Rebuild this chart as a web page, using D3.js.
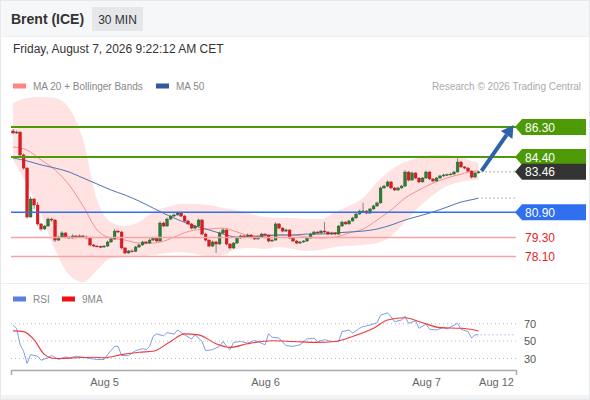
<!DOCTYPE html>
<html>
<head>
<meta charset="utf-8">
<title>Brent (ICE) 30 MIN</title>
<script src="https://d3js.org/d3.v7.min.js"></script>
<style>
  body { margin: 0; background: #fff; }
  svg text { font-family: "Liberation Sans", Arial, sans-serif; }
</style>
</head>
<body>
<svg id="chart" width="590" height="400"></svg>
<script>
// ---- data ----
var firstOpen = 86.05;
var closes = [85.92, 85.98, 84.53, 83.70, 80.60, 81.74, 81.36, 80.16, 79.84, 80.03,
  80.47, 80.41, 79.14, 79.33, 79.59, 79.33, 79.27, 79.40, 79.33, 79.40,
  79.33, 79.27, 78.83, 78.76, 78.73, 78.70, 78.76, 79.02, 79.21, 79.71,
  79.65, 78.64, 78.32, 78.45, 78.42, 78.70, 78.83, 79.02, 78.95, 79.14,
  79.27, 79.08, 80.22, 80.03, 80.47, 80.66, 80.73, 80.85, 80.66, 80.35,
  80.16, 79.90, 80.03, 80.41, 79.52, 79.14, 78.76, 79.02, 78.89, 79.59,
  79.78, 78.89, 78.64, 78.95, 79.27, 79.40, 79.33, 79.46, 79.33, 79.21,
  79.33, 79.52, 79.46, 79.08, 79.14, 80.16, 79.90, 79.71, 79.78, 79.27,
  79.08, 78.95, 79.02, 79.08, 79.27, 79.52, 79.65, 79.59, 79.71, 79.65,
  79.52, 79.59, 79.52, 80.03, 80.28, 80.16, 80.35, 80.54, 80.79, 80.98,
  80.98, 80.85, 81.11, 81.30, 81.49, 82.44, 82.56, 82.82, 82.44, 82.31,
  82.44, 82.56, 83.45, 82.94, 83.39, 83.07, 82.82, 83.07, 83.45, 83.01,
  82.88, 83.07, 83.20, 83.26, 83.29, 83.32, 83.45, 84.08, 83.77, 83.70,
  83.51, 83.13, 83.39, 83.46];
var highs = [86.18, 86.08, 86.02, 84.62, 83.76, 81.88, 81.80, 81.55, 80.22, 80.10,
  80.58, 80.55, 80.46, 79.42, 79.70, 79.64, 79.40, 79.50, 79.46, 79.50,
  79.47, 79.43, 79.34, 78.90, 78.82, 78.80, 78.83, 79.10, 79.30, 79.84,
  79.78, 79.72, 78.70, 78.52, 78.55, 78.78, 78.92, 79.10, 79.08, 79.24,
  79.36, 79.32, 80.32, 80.30, 80.56, 80.74, 80.82, 80.94, 80.92, 80.72,
  80.42, 80.22, 80.10, 80.50, 80.46, 79.60, 79.20, 79.12, 79.10, 79.68,
  79.88, 79.82, 78.95, 79.02, 79.34, 79.48, 79.46, 79.55, 79.52, 79.38,
  79.40, 79.60, 79.58, 79.50, 79.22, 80.26, 80.22, 79.96, 79.86, 79.82,
  79.32, 79.14, 79.08, 79.14, 79.34, 79.60, 79.72, 79.70, 79.78, 80.28,
  79.70, 79.66, 79.64, 80.10, 80.36, 80.32, 80.42, 80.62, 80.86, 81.06,
  81.50, 81.04, 81.18, 81.38, 81.58, 82.54, 82.64, 82.92, 82.88, 82.50,
  82.52, 82.64, 83.56, 83.50, 83.48, 83.44, 83.12, 83.14, 83.54, 83.50,
  83.06, 83.14, 83.28, 83.34, 83.36, 83.40, 83.52, 84.32, 84.14, 83.82,
  83.76, 83.56, 83.46, 83.52];
var lows = [85.85, 85.86, 84.45, 83.60, 80.50, 80.55, 81.10, 80.05, 79.74, 79.78,
  79.98, 80.30, 79.02, 79.08, 79.28, 79.25, 79.20, 79.22, 79.26, 79.28,
  79.27, 79.20, 78.74, 78.70, 78.68, 78.64, 78.66, 78.72, 78.96, 79.15,
  79.58, 78.55, 78.25, 78.28, 78.36, 78.38, 78.64, 78.78, 78.88, 78.90,
  79.08, 79.02, 79.04, 79.96, 79.98, 80.40, 80.60, 80.68, 80.60, 80.28,
  80.10, 79.82, 79.84, 79.98, 79.44, 79.05, 78.68, 78.70, 78.33, 78.84,
  79.52, 78.80, 78.55, 78.58, 78.90, 79.22, 79.27, 79.28, 79.28, 79.14,
  79.16, 79.28, 79.40, 79.00, 79.02, 79.10, 79.84, 79.64, 79.66, 79.20,
  79.02, 78.88, 78.90, 78.96, 79.02, 79.22, 79.46, 79.52, 79.54, 79.60,
  79.46, 79.46, 79.46, 79.48, 79.98, 80.10, 80.12, 80.30, 80.50, 80.74,
  80.92, 80.78, 80.80, 81.06, 81.24, 81.44, 82.38, 82.50, 82.36, 82.24,
  82.26, 82.38, 82.50, 82.86, 82.90, 83.00, 82.74, 82.78, 83.02, 82.94,
  82.80, 82.84, 83.02, 83.14, 83.20, 83.24, 83.28, 83.40, 83.70, 83.62,
  83.44, 83.04, 83.08, 83.36];

// moving averages and Bollinger bands, sampled every 4 candles
var bandIdx = [0, 4, 8, 12, 16, 20, 24, 28, 32, 36, 40, 44, 48, 52, 56, 60, 64, 68,
  72, 76, 80, 84, 88, 92, 96, 100, 104, 108, 112, 116, 120, 124, 128, 132, 133];
var ma20 = [85.03, 84.84, 84.21, 83.58, 82.63, 81.30, 79.78, 79.27, 79.14, 78.95,
  78.95, 79.14, 79.52, 79.78, 79.84, 79.90, 79.65, 79.40, 79.46, 79.46,
  79.46, 79.33, 79.27, 79.33, 79.59, 79.84, 80.41, 81.04, 81.80, 82.31,
  82.75, 83.07, 83.32, 83.51, 83.51];
var ma50 = [84.34, 84.15, 83.90, 83.70, 83.45, 83.07, 82.69, 82.31, 81.99, 81.61,
  81.17, 80.73, 80.35, 80.03, 79.78, 79.52, 79.33, 79.33, 79.40, 79.46,
  79.46, 79.52, 79.52, 79.59, 79.65, 79.71, 79.84, 80.09, 80.41, 80.66,
  80.92, 81.23, 81.55, 81.74, 81.80];
var bbUpper = [87.82, 88.14, 88.20, 88.14, 87.50, 85.48, 81.68, 80.28, 80.03, 80.28,
  80.92, 81.23, 81.42, 81.42, 81.36, 81.17, 81.04, 80.79, 80.60, 80.54,
  80.54, 80.47, 80.47, 80.92, 81.30, 81.80, 82.82, 83.58, 84.08, 84.34,
  84.53, 84.53, 84.40, 84.08, 84.02];
var bbLower = [84.21, 82.63, 80.73, 78.51, 76.93, 76.48, 77.24, 78.00, 78.07, 78.07,
  78.19, 78.32, 78.38, 78.26, 78.07, 78.19, 78.57, 78.64, 78.57, 78.70,
  78.57, 78.45, 78.51, 78.70, 78.76, 78.83, 78.95, 79.40, 80.28, 81.23,
  81.99, 82.56, 82.82, 82.94, 82.94];

// RSI panel
var rsiIdx = [0, 1, 2, 3, 4, 5, 7, 8, 10, 11, 13, 15, 16, 18, 20, 22, 24, 26, 27, 29,
  30, 31, 33, 35, 37, 38, 39, 40, 41, 43, 44, 46, 47, 49, 51, 52, 54, 55, 57, 59,
  60, 61, 62, 63, 65, 67, 69, 72, 73, 74, 76, 78, 80, 82, 84, 86, 87, 89, 91, 93,
  94, 96, 97, 99, 100, 102, 104, 105, 107, 108, 109, 111, 112, 113, 115, 116, 118, 119, 121, 123,
  124, 127, 128, 130, 131, 132, 133];
var rsiVals = [68.5, 64.7, 45.8, 38.3, 24.3, 34.5, 32.6, 28.0, 30.8, 33.4, 28.9, 31.9, 30.4, 32.6, 31.5, 30.0, 28.9, 28.9, 34.5, 44.0,
  44.0, 33.4, 33.4, 39.0, 41.3, 40.2, 44.0, 55.3, 58.3, 56.0, 59.8, 57.9, 62.8, 57.2, 52.3, 57.2, 49.6, 39.0, 40.2, 44.0,
  49.6, 44.0, 40.2, 48.5, 49.6, 47.7, 50.8, 45.8, 58.3, 54.5, 53.4, 44.7, 44.0, 45.8, 52.6, 53.4, 49.6, 51.5, 49.6, 49.6,
  60.9, 62.8, 59.1, 64.7, 66.6, 68.5, 71.1, 79.8, 82.5, 77.9, 72.3, 74.2, 78.7, 70.4, 73.4, 64.7, 69.6, 63.6, 62.8, 65.8,
  64.0, 70.4, 63.6, 60.9, 53.4, 57.2, 57.2];
var rsiMaIdx = [0, 3, 6, 9, 12, 18, 23, 26, 31, 36, 40, 45, 49, 53, 58, 62, 67, 74, 80, 87,
  92, 97, 103, 107, 112, 117, 122, 128, 133];
var rsiMaVals = [61.7, 60.9, 51.5, 34.5, 30.0, 30.8, 31.5, 30.8, 34.5, 37.2, 38.3, 49.6, 58.3, 57.2, 47.0, 42.8, 47.0, 50.4, 49.6, 48.5,
  49.6, 55.3, 64.7, 74.2, 76.8, 71.1, 65.5, 64.7, 61.7];
var rsiTicks = [30, 50, 70];

// key levels
var resistances = [86.30, 84.40];
var pivot = 80.90;
var supports = [79.30, 78.10];
var lastPrice = 83.46;
var target = [143, 86.42]; // arrow end: [candle slot, price]

var dateTicks = [26, 72, 118, 138];
var dateLabels = ["Aug 5", "Aug 6", "Aug 7", "Aug 12"];

// ---- chart ----
var svg = d3.select("#chart");
var W = 590, H = 400;

// frame and header
svg.append("rect").attr("x", 0.5).attr("y", 0.5).attr("width", W - 1).attr("height", H - 1)
  .attr("fill", "#fff").attr("stroke", "#e6e9ec");
svg.append("rect").attr("x", 1).attr("y", 1).attr("width", W - 2).attr("height", 35).attr("fill", "#f6f7f8");
svg.append("line").attr("x1", 1).attr("x2", W - 1).attr("y1", 36.5).attr("y2", 36.5).attr("stroke", "#eceef0");
svg.append("text").attr("x", 11).attr("y", 24).attr("font-size", 14).attr("font-weight", "bold")
  .attr("fill", "#333").text("Brent (ICE)");
svg.append("rect").attr("x", 92).attr("y", 7).attr("width", 51).attr("height", 24).attr("fill", "#e6e7e9");
svg.append("text").attr("x", 117.5).attr("y", 24).attr("text-anchor", "middle").attr("font-size", 12)
  .attr("fill", "#333").text("30 MIN");
svg.append("text").attr("x", 13).attr("y", 53).attr("font-size", 12).attr("fill", "#333")
  .text("Friday, August 7, 2026 9:22:12 AM CET");

// legend
function legendItem(g, x, y, color, label) {
  g.append("rect").attr("x", x).attr("y", y - 2.5).attr("width", 13).attr("height", 5).attr("fill", color);
  g.append("text").attr("x", x + 20).attr("y", y + 3.5).attr("font-size", 10).attr("fill", "#888").text(label);
}
legendItem(svg, 13, 86, "#ff8585", "MA 20 + Bollinger Bands");
legendItem(svg, 156, 86, "#2f5b9c", "MA 50");
svg.append("text").attr("x", 581).attr("y", 89.5).attr("text-anchor", "end").attr("font-size", 10)
  .attr("fill", "#aaa").text("Research \u00a9 2026 Trading Central");

// scales
var x = d3.scaleLinear().domain([-0.6, 143.7]).range([11, 516]);
var y = d3.scaleLinear().domain([78.10, 86.30]).range([256.5, 127]);
var ry = d3.scaleLinear().domain([30, 70]).range([358.5, 323.7]);

svg.append("clipPath").attr("id", "mainclip").append("rect")
  .attr("x", 11).attr("y", 95).attr("width", 505).attr("height", 188);
var main = svg.append("g").attr("clip-path", "url(#mainclip)");

// bollinger band
var bandData = bandIdx.map(function(d, i) { return { i: d, up: bbUpper[i], lo: bbLower[i], m20: ma20[i], m50: ma50[i] }; });
main.append("path").datum(bandData)
  .attr("fill", "#ffdede").attr("opacity", 0.85)
  .attr("d", d3.area().curve(d3.curveMonotoneX)
    .x(function(d) { return x(d.i); })
    .y0(function(d) { return y(d.lo); })
    .y1(function(d) { return y(d.up); }));

// level lines
svg.selectAll(".sup").data(supports).enter().append("line")
  .attr("x1", 11).attr("x2", 516)
  .attr("y1", function(d) { return y(d); }).attr("y2", function(d) { return y(d); })
  .attr("stroke", "#f7a3a3").attr("stroke-width", 1.5);
svg.append("line").attr("x1", 11).attr("x2", 516).attr("y1", y(pivot)).attr("y2", y(pivot))
  .attr("stroke", "#2f6ff0").attr("stroke-width", 1.5);
svg.selectAll(".res").data(resistances).enter().append("line")
  .attr("x1", 11).attr("x2", 516)
  .attr("y1", function(d) { return y(d); }).attr("y2", function(d) { return y(d); })
  .attr("stroke", "#4e9a06").attr("stroke-width", 2);

// moving averages
main.append("path").datum(bandData).attr("fill", "none").attr("stroke", "#f58f8f").attr("stroke-width", 1)
  .attr("d", d3.line().curve(d3.curveMonotoneX).x(function(d) { return x(d.i); }).y(function(d) { return y(d.m20); }));
main.append("path").datum(bandData).attr("fill", "none").attr("stroke", "#4f74b3").attr("stroke-width", 1)
  .attr("d", d3.line().curve(d3.curveMonotoneX).x(function(d) { return x(d.i); }).y(function(d) { return y(d.m50); }));

// candles
var candles = closes.map(function(c, i) {
  return { i: i, o: i === 0 ? firstOpen : closes[i - 1], c: c, h: highs[i], l: lows[i] };
});
var cg = main.selectAll(".candle").data(candles).enter().append("g").attr("class", "candle");
cg.append("line")
  .attr("x1", function(d) { return x(d.i); }).attr("x2", function(d) { return x(d.i); })
  .attr("y1", function(d) { return y(d.h); }).attr("y2", function(d) { return y(d.l); })
  .attr("stroke", "#666").attr("stroke-width", 0.8);
cg.append("rect")
  .attr("x", function(d) { return x(d.i) - 1.4; })
  .attr("width", 2.8)
  .attr("y", function(d) { return y(Math.max(d.o, d.c)); })
  .attr("height", function(d) { return Math.max(0.8, Math.abs(y(d.o) - y(d.c))); })
  .attr("fill", function(d) { return d.c >= d.o ? "#2f7d32" : "#e3191f"; })
  .attr("stroke", function(d) { return d.c >= d.o ? "#25602a" : "#b8141a"; })
  .attr("stroke-width", 0.4);

// dotted extensions
var lastI = closes.length - 1;
svg.append("line").attr("x1", x(lastI) + 3).attr("x2", 515).attr("y1", y(lastPrice)).attr("y2", y(lastPrice))
  .attr("stroke", "#555").attr("stroke-dasharray", "1,3");
svg.append("line").attr("x1", x(lastI) + 3).attr("x2", 515).attr("y1", y(ma50[ma50.length - 1])).attr("y2", y(ma50[ma50.length - 1]))
  .attr("stroke", "#4f74b3").attr("stroke-dasharray", "1,3");

// forecast arrow
var ax0 = x(lastI) + 3, ay0 = y(lastPrice) - 1, ax1 = x(target[0]), ay1 = y(target[1]);
var ang = Math.atan2(ay1 - ay0, ax1 - ax0);
var hl = 12, hw = 7;
var bx = ax1 - hl * Math.cos(ang), by = ay1 - hl * Math.sin(ang);
svg.append("line").attr("x1", ax0).attr("y1", ay0).attr("x2", bx).attr("y2", by)
  .attr("stroke", "#2d62a8").attr("stroke-width", 4);
svg.append("path").attr("fill", "#2d62a8")
  .attr("d", "M" + ax1 + "," + ay1 +
    "L" + (bx + hw * Math.sin(ang)) + "," + (by - hw * Math.cos(ang)) +
    "L" + (bx - hw * Math.sin(ang)) + "," + (by + hw * Math.cos(ang)) + "Z");

// level labels
function tagLabel(value, color) {
  var cy = y(value);
  svg.append("path").attr("fill", color)
    .attr("d", "M515," + cy + "L522," + (cy - 8) + "L586," + (cy - 8) + "L586," + (cy + 8) + "L522," + (cy + 8) + "Z");
  svg.append("text").attr("x", 525).attr("y", cy + 4.5).attr("font-size", 12).attr("fill", "#fff")
    .text(value.toFixed(2));
}
resistances.forEach(function(v) { tagLabel(v, "#4e9a06"); });
tagLabel(lastPrice, "#333");
tagLabel(pivot, "#2f6ff0");
svg.selectAll(".suplab").data(supports).enter().append("text")
  .attr("x", 525).attr("y", function(d) { return y(d) + 4.5; })
  .attr("font-size", 12).attr("fill", "#e8231f")
  .text(function(d) { return d.toFixed(2); });

// panel separator
svg.append("line").attr("x1", 1).attr("x2", W - 1).attr("y1", 283.5).attr("y2", 283.5).attr("stroke", "#eceef0");

// RSI panel
legendItem(svg, 13, 299, "#5b7fe0", "RSI");
legendItem(svg, 62, 299, "#f01010", "9MA");

svg.selectAll(".rgrid").data(rsiTicks).enter().append("line")
  .attr("x1", 11).attr("x2", 516)
  .attr("y1", function(d) { return ry(d); }).attr("y2", function(d) { return ry(d); })
  .attr("stroke", "#bbb").attr("stroke-dasharray", "1,3");
svg.selectAll(".rlab").data(rsiTicks).enter().append("text")
  .attr("x", 524).attr("y", function(d) { return ry(d) + 4; })
  .attr("font-size", 11).attr("fill", "#555").text(function(d) { return d; });

var rsiData = rsiIdx.map(function(d, i) { return [d, rsiVals[i]]; });
var rsiMaData = rsiMaIdx.map(function(d, i) { return [d, rsiMaVals[i]]; });
svg.append("path").datum(rsiData).attr("fill", "none").attr("stroke", "#7f9de8").attr("stroke-width", 1)
  .attr("d", d3.line().x(function(d) { return x(d[0]); }).y(function(d) { return ry(d[1]); }));
svg.append("path").datum(rsiMaData).attr("fill", "none").attr("stroke", "#f03a3a").attr("stroke-width", 1.1)
  .attr("d", d3.line().curve(d3.curveMonotoneX).x(function(d) { return x(d[0]); }).y(function(d) { return ry(d[1]); }));
svg.append("line").attr("x1", x(lastI) + 2).attr("x2", 516)
  .attr("y1", ry(rsiVals[rsiVals.length - 1])).attr("y2", ry(rsiVals[rsiVals.length - 1]))
  .attr("stroke", "#7f9de8").attr("stroke-dasharray", "1,3");

// time axis
var xAxis = d3.axisBottom(x).tickValues(dateTicks)
  .tickFormat(function(d, i) { return dateLabels[i]; })
  .tickSizeInner(0).tickSizeOuter(5).tickPadding(8);
var ax = svg.append("g").attr("transform", "translate(0,370)").call(xAxis);
ax.select(".domain").attr("stroke", "#aaa").attr("stroke-width", 1.5);
ax.selectAll("text").attr("font-size", 11).attr("fill", "#666")
  .attr("font-family", "'Liberation Sans', Arial, sans-serif");

svg.append("rect").attr("x", 1).attr("y", 395).attr("width", W - 2).attr("height", 4).attr("fill", "#f2f4f6");
</script>
</body>
</html>
